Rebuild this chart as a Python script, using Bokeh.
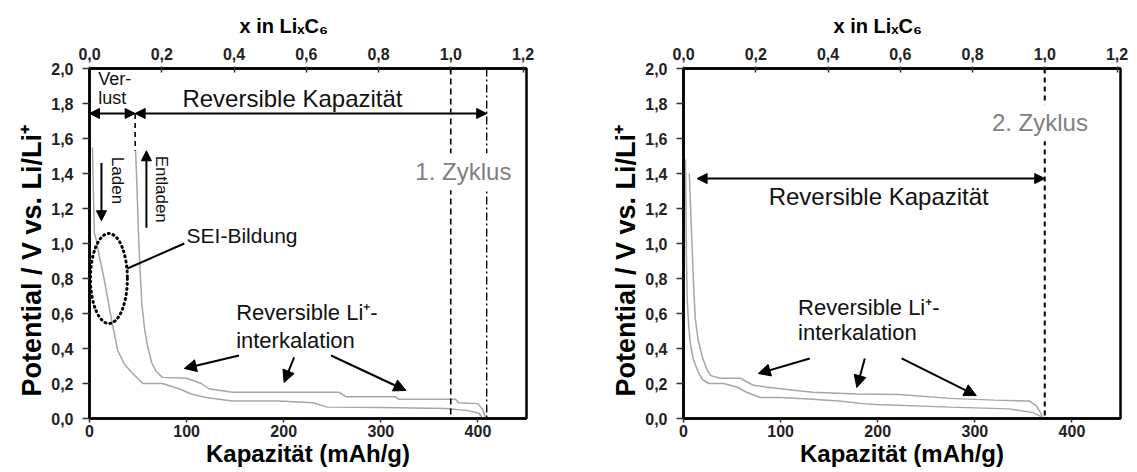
import math
from bokeh.plotting import figure
from bokeh.layouts import row
from bokeh.models import (Range1d, LinearAxis, FixedTicker, CustomJSTickFormatter,
                          Arrow, NormalHead, Label, Span, Title)
from bokeh.embed import file_html
from bokeh.resources import INLINE

FONT = "Liberation Sans"

# ---------------- data ----------------
cap_max = 450          # mAh/g, x-range of both panels
cap_lic6 = 372         # mAh/g that corresponds to x = 1 in LixC6
cap_ticks = [0, 100, 200, 300, 400]
x_lic6_ticks = [0.0, 0.2, 0.4, 0.6, 0.8, 1.0, 1.2]
pot_ticks = [0.0, 0.2, 0.4, 0.6, 0.8, 1.0, 1.2, 1.4, 1.6, 1.8, 2.0]

# 1. Zyklus – Laden (lower curve)
c1_lade_cap = [3, 4, 5, 7, 10, 15, 20.5, 25, 29, 36, 44, 55, 65, 75, 92, 105, 120, 147,
               195, 230, 245, 300, 367, 390, 401, 405]
c1_lade_pot = [1.55, 1.30, 1.06, 1.02, 0.93, 0.80, 0.63, 0.50, 0.39, 0.31, 0.26, 0.20, 0.20,
               0.20, 0.17, 0.14, 0.12, 0.10, 0.10, 0.09, 0.065, 0.063, 0.057, 0.045, 0.03, 0.0]
# 1. Zyklus – Entladen (upper curve)
c1_entlade_cap = [47.5, 49, 50.5, 52, 54, 57, 60, 64, 68.5, 75, 100, 115, 123, 147, 190, 257,
                  264, 315, 318, 377, 380, 400, 405, 408]
c1_entlade_pot = [1.53, 1.30, 1.05, 0.85, 0.65, 0.50, 0.41, 0.32, 0.27, 0.235, 0.23, 0.20,
                  0.17, 0.15, 0.15, 0.15, 0.125, 0.125, 0.11, 0.11, 0.09, 0.085, 0.05, 0.0]

# 2. Zyklus – Laden (lower curve)
c2_lade_cap = [2, 2.5, 3, 4, 5.5, 7, 10, 15.5, 20, 26, 41, 55, 65, 79, 100, 133, 160, 185,
               199, 274, 335, 359, 367, 369]
c2_lade_pot = [1.48, 1.2, 0.9, 0.66, 0.52, 0.43, 0.34, 0.26, 0.22, 0.20, 0.20, 0.18, 0.15,
               0.12, 0.12, 0.11, 0.10, 0.085, 0.08, 0.065, 0.055, 0.035, 0.015, 0.0]
# 2. Zyklus – Entladen (upper curve)
c2_entlade_cap = [6, 7, 8, 9, 10.5, 12, 15, 19.5, 24, 28, 38, 58.5, 65, 72, 85, 99.5, 133, 178,
                  222, 274, 320, 356, 363, 368, 370]
c2_entlade_pot = [1.40, 1.25, 1.1, 0.96, 0.75, 0.58, 0.45, 0.35, 0.28, 0.245, 0.23, 0.23, 0.21,
                  0.19, 0.18, 0.17, 0.15, 0.14, 0.137, 0.115, 0.105, 0.10, 0.075, 0.03, 0.0]

CURVE_COLOR = "#a6a6a6"
TEXT_COLOR = "#111111"
FMT = "return tick.toFixed(1).replace('.', ',');"
FIG_H = 470
Y_TITLE = "Potential / V vs. Li/Li\u207a"
TOP_TITLE = "x in Li\u2093C\u2086"


def panel(width, border_right):
    p = figure(width=width, height=FIG_H,
               x_range=Range1d(0, cap_max), y_range=Range1d(0, 2.0),
               output_backend="svg", toolbar_location=None,
               title=TOP_TITLE, title_location="above",
               min_border_left=89, min_border_right=border_right,
               min_border_top=68, min_border_bottom=52,
               x_axis_label="Kapazität (mAh/g)")
    p.xgrid.visible = False
    p.ygrid.visible = False
    p.background_fill_color = "white"
    p.border_fill_color = "white"
    p.outline_line_color = "black"
    p.outline_line_width = 2.5
    p.outline_line_alpha = 1.0

    # top title: "x in LixC6", left of centre as in the original
    p.title.text_font = FONT
    p.title.text_font_style = "bold"
    p.title.text_font_size = "20px"
    p.title.text_color = "black"
    p.title.align = "left"
    p.title.offset = 150
    p.title.standoff = 16

    p.extra_x_ranges = {"lix": Range1d(0, cap_max / cap_lic6)}
    top = LinearAxis(x_range_name="lix")
    p.add_layout(top, "above")

    xb = p.below[0]
    yl = p.left[0]

    for ax in (xb, yl, top):
        ax.axis_line_color = "black"
        ax.axis_line_width = 2.5
        ax.major_tick_line_color = "#333333"
        ax.major_tick_line_width = 1.5
        ax.minor_tick_line_color = None
        ax.major_label_text_font = FONT
        ax.major_label_text_font_style = "bold"
        ax.major_label_text_font_size = "16px"
        ax.major_label_text_color = "#222222"
        ax.axis_label_text_font = FONT
        ax.axis_label_text_font_style = "bold"
        ax.axis_label_text_color = "black"

    xb.ticker = FixedTicker(ticks=cap_ticks)
    xb.major_tick_in = 0
    xb.major_tick_out = 4
    xb.major_label_standoff = 2
    xb.axis_label_text_font_size = "24px"
    xb.axis_label_standoff = 0

    yl.ticker = FixedTicker(ticks=pot_ticks)
    yl.formatter = CustomJSTickFormatter(code=FMT)
    yl.major_tick_in = 0
    yl.major_tick_out = 7
    yl.major_label_standoff = 9

    top.ticker = FixedTicker(ticks=x_lic6_ticks)
    top.formatter = CustomJSTickFormatter(code=FMT)
    top.major_tick_in = 4
    top.major_tick_out = 2
    top.major_label_standoff = 7

    # y title, starting a little above the frame bottom as in the original
    yt = Title(text=Y_TITLE, align="left", offset=22, standoff=3,
               text_font=FONT, text_font_style="bold", text_font_size="27px",
               text_color="black")
    p.add_layout(yt, "left")
    return p


def arrow(p, x0, y0, x1, y1, both=False, size=10, width=2):
    head_end = NormalHead(size=size, fill_color="black", line_color="black")
    head_start = NormalHead(size=size, fill_color="black", line_color="black") if both else None
    p.add_layout(Arrow(x_start=x0, y_start=y0, x_end=x1, y_end=y1,
                       start=head_start, end=head_end,
                       line_color="black", line_width=width))


def label(p, x, y, text, size="22px", align="left", angle=0.0, color=TEXT_COLOR,
          style="normal", bg=None):
    kw = {}
    if bg is not None:
        kw = dict(background_fill_color=bg, background_fill_alpha=1.0, padding=5)
    p.add_layout(Label(x=x, y=y, text=text, text_font=FONT, text_font_size=size,
                       text_font_style=style, text_color=color, text_align=align,
                       text_baseline="middle", angle=angle, **kw))


# ---------------- left panel: 1. Zyklus ----------------
p1 = panel(594, 68)
p1.line(c1_lade_cap, c1_lade_pot, line_color=CURVE_COLOR, line_width=1.5)
p1.line(c1_entlade_cap, c1_entlade_pot, line_color=CURVE_COLOR, line_width=1.5)

p1.add_layout(Span(location=372, dimension="height", line_color="black",
                   line_width=1.6, line_dash="6 4"))
p1.add_layout(Span(location=409, dimension="height", line_color="black",
                   line_width=1.4, line_dash="8 3 2 3"))
p1.segment(x0=[47], y0=[1.74], x1=[47], y1=[1.53], line_color="black",
           line_width=1.6, line_dash="5 4")

arrow(p1, 0, 1.743, 47, 1.743, both=True)
arrow(p1, 47, 1.743, 409, 1.743, both=True)
label(p1, 9, 1.94, "Ver-", size="18px")
label(p1, 9, 1.83, "lust", size="18px")
label(p1, 209, 1.83, "Reversible Kapazität", size="24px", align="center")
label(p1, 385, 1.41, "1. Zyklus", size="24px", align="center", color="#7f7f7f", bg="white")

arrow(p1, 12.3, 1.46, 12.3, 1.13)
label(p1, 28.8, 1.36, "Laden", size="17px", align="center", angle=-math.pi / 2)
arrow(p1, 58.6, 1.09, 58.6, 1.53)
label(p1, 74, 1.31, "Entladen", size="17px", align="center", angle=-math.pi / 2)

p1.ellipse(x=[20], y=[0.80], width=[38], height=[0.514], fill_alpha=0,
           line_color="black", line_width=3, line_dash="1 4", line_cap="round")
p1.segment(x0=[39], y0=[0.857], x1=[97.6], y1=[1.0], line_color="black", line_width=2)
label(p1, 100, 1.045, "SEI-Bildung", size="21px")

label(p1, 151, 0.606, "Reversible Li\u207a-", size="22px")
label(p1, 151, 0.446, "interkalation", size="22px")
arrow(p1, 154, 0.36, 97.6, 0.286, size=12)
arrow(p1, 210.7, 0.349, 200.4, 0.206, size=12)
arrow(p1, 248.7, 0.36, 325.8, 0.16, size=12)

# ---------------- right panel: 2. Zyklus ----------------
p2 = panel(543, 17)
p2.line(c2_lade_cap, c2_lade_pot, line_color=CURVE_COLOR, line_width=1.5)
p2.line(c2_entlade_cap, c2_entlade_pot, line_color=CURVE_COLOR, line_width=1.5)

p2.add_layout(Span(location=372, dimension="height", line_color="black",
                   line_width=2, line_dash="5 4"))
label(p2, 367, 1.69, "2. Zyklus", size="24px", align="center", color="#7f7f7f", bg="white")

arrow(p2, 14, 1.371, 372, 1.371, both=True)
label(p2, 201, 1.27, "Reversible Kapazität", size="24px", align="center")

label(p2, 118, 0.634, "Reversible Li\u207a-", size="22px")
label(p2, 118, 0.49, "interkalation", size="22px")
arrow(p2, 130, 0.343, 77, 0.257, size=12)
arrow(p2, 186.7, 0.343, 178.5, 0.177, size=12)
arrow(p2, 224.6, 0.343, 301.5, 0.131, size=12)

layout = row(p1, p2)

open("out.html", "w").write(file_html(layout, INLINE))
